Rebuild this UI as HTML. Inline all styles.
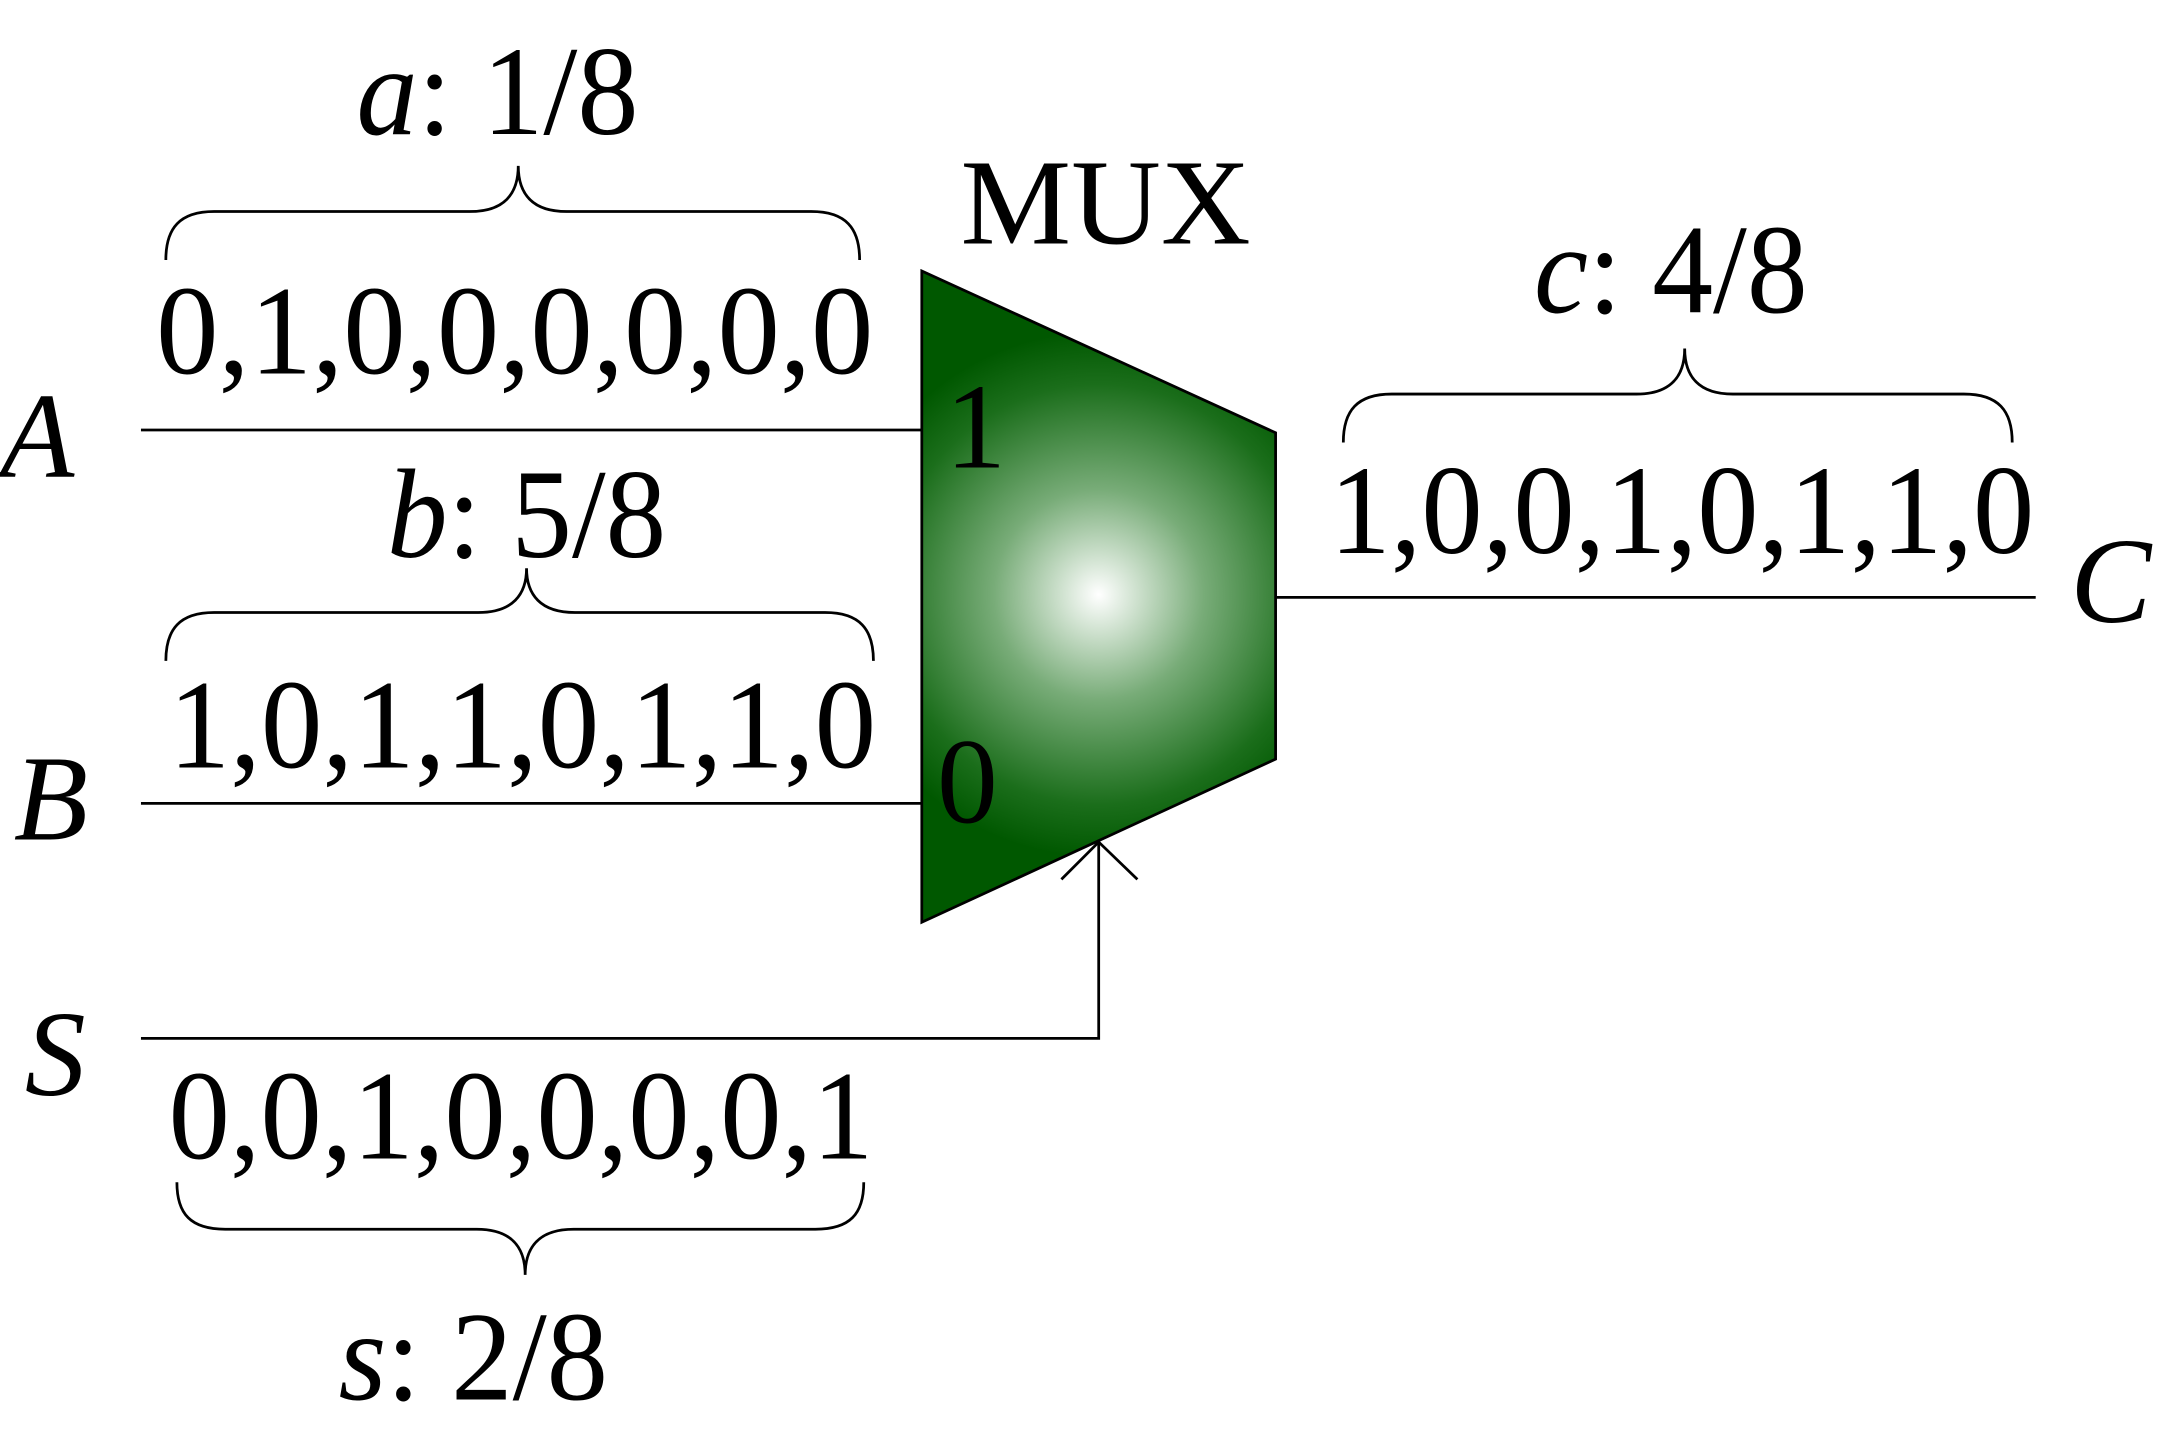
<!DOCTYPE html>
<html><head><style>html,body{margin:0;padding:0;background:#fff}svg{display:block}text{font-family:"Liberation Serif","Times New Roman",serif}</style></head>
<body>
<svg width="2167" height="1438" viewBox="0 0 1568 1040" preserveAspectRatio="none" xmlns="http://www.w3.org/2000/svg">
<defs>
<radialGradient id="g" cx="795" cy="430" r="190" gradientUnits="userSpaceOnUse">
<stop offset="0" stop-color="#ffffff"/>
<stop offset="0.4" stop-color="#78ac78"/>
<stop offset="0.8" stop-color="#1b6e1b"/>
<stop offset="1" stop-color="#005800"/>
</radialGradient>
</defs>
<g stroke="#000" stroke-width="2" fill="none">
<line x1="102" y1="311" x2="667" y2="311"/>
<line x1="102" y1="581" x2="667" y2="581"/>
<polyline points="102,751 795,751 795,609"/>
<polyline points="768,636 795,609 823,636"/>
<line x1="923" y1="432" x2="1473" y2="432"/>
<path d="M120,188 C120,165 130,153 155,153 L340,153 C365,153 375,140 375,120 C375,140 385,153 410,153 L587,153 C612,153 622,165 622,188"/>
<path d="M120,478 C120,455 130,443 155,443 L346,443 C371,443 381,430 381,411 C381,430 391,443 416,443 L597,443 C622,443 632,455 632,478"/>
<path d="M972,320 C972,297 982,285 1007,285 L1184,285 C1209,285 1219,272 1219,252 C1219,272 1229,285 1254,285 L1421,285 C1446,285 1456,297 1456,320"/>
<path d="M128,855 C128,878 138,889 163,889 L345,889 C370,889 380,902 380,922 C380,902 390,889 415,889 L590,889 C615,889 625,878 625,855"/>
</g>
<polygon points="667,196 923,313 923,549 667,667" fill="url(#g)" stroke="#000" stroke-width="2"/>
<g fill="#000" font-size="92">
<text x="113" y="270" textLength="519" lengthAdjust="spacingAndGlyphs">0,1,0,0,0,0,0,0</text>
<text x="122" y="555" textLength="512" lengthAdjust="spacingAndGlyphs">1,0,1,1,0,1,1,0</text>
<text x="962" y="400" textLength="510" lengthAdjust="spacingAndGlyphs">1,0,0,1,0,1,1,0</text>
<text x="122" y="838" textLength="510" lengthAdjust="spacingAndGlyphs">0,0,1,0,0,0,0,1</text>
<text x="258" y="97" textLength="204" lengthAdjust="spacingAndGlyphs"><tspan font-style="italic">a</tspan>: 1/8</text>
<text x="280" y="403" textLength="202" lengthAdjust="spacingAndGlyphs"><tspan font-style="italic">b</tspan>: 5/8</text>
<text x="1110" y="226" textLength="198" lengthAdjust="spacingAndGlyphs"><tspan font-style="italic">c</tspan>: 4/8</text>
<text x="245" y="1012" textLength="195" lengthAdjust="spacingAndGlyphs"><tspan font-style="italic">s</tspan>: 2/8</text>
<text x="695" y="176" textLength="210" lengthAdjust="spacingAndGlyphs" font-size="88">MUX</text>
<text x="684" y="338" font-size="88">1</text>
<text x="678" y="595" font-size="88">0</text>
<text x="0" y="345" font-style="italic" font-size="88">A</text>
<text x="10" y="607" font-style="italic" font-size="88">B</text>
<text x="18" y="792" font-style="italic" font-size="88">S</text>
<text x="1498" y="450" font-style="italic" font-size="88">C</text>
</g>
</svg>
</body></html>
